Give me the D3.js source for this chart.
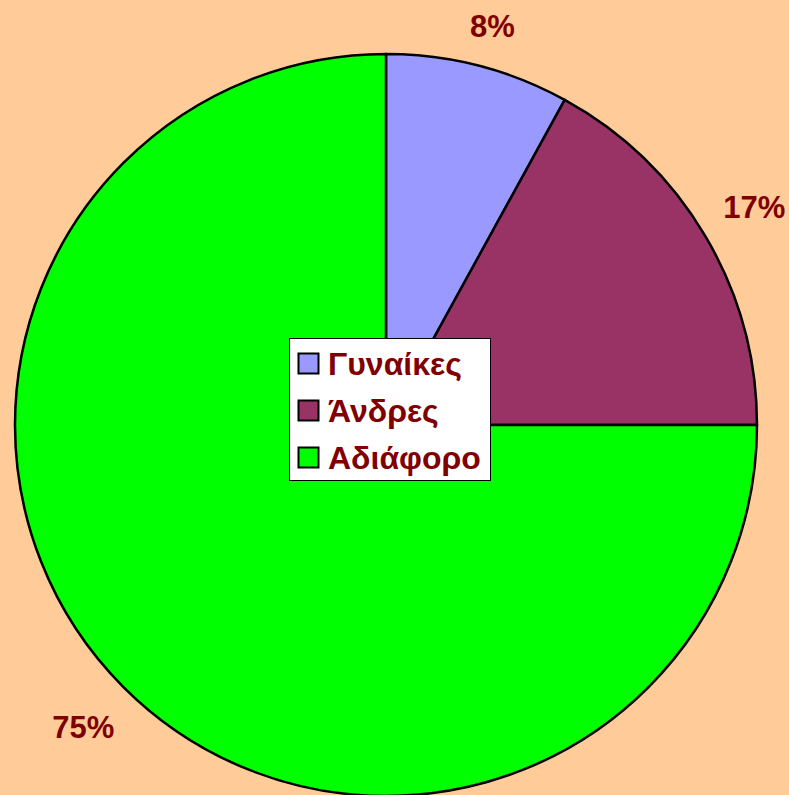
<!DOCTYPE html>
<html lang="el">
<head>
<meta charset="UTF-8">
<title>Pie</title>
<script src="https://d3js.org/d3.v7.min.js"></script>
<style>
  html, body { margin: 0; padding: 0; background: #FFCC99; overflow: hidden; }
  svg { display: block; }
  .lbl { font-family: "Liberation Sans", Arial, sans-serif; font-weight: bold; fill: #800000; }
</style>
</head>
<body>
<svg id="chart" width="789" height="795"></svg>
<script>
// data
const categories = ["Γυναίκες", "Άνδρες", "Αδιάφορο"];
const values = [8, 17, 75];
const colors = ["#9999FF", "#993366", "#00FF00"];

const W = 789, H = 795;
const cx = 386, cy = 425, r = 371, labelR = 428;

const svg = d3.select("#chart");
const color = d3.scaleOrdinal().domain(categories).range(colors);

const pie = d3.pie().sort(null).value(d => d.v);
const arcs = pie(categories.map((c, i) => ({ c, v: values[i] })));
const total = d3.sum(values);

const arc = d3.arc().innerRadius(0).outerRadius(r);
const labelArc = d3.arc().innerRadius(labelR).outerRadius(labelR);

const g = svg.append("g").attr("transform", `translate(${cx},${cy})`);

g.selectAll("path.slice")
  .data(arcs)
  .join("path")
  .attr("class", "slice")
  .attr("d", arc)
  .attr("fill", d => color(d.data.c))
  .attr("stroke", "#000")
  .attr("stroke-width", 2.5)
  .attr("stroke-linejoin", "round");

// percent labels, kept inside the top of the chart area
g.selectAll("text.pct")
  .data(arcs)
  .join("text")
  .attr("class", "lbl pct")
  .attr("font-size", 31)
  .attr("text-anchor", "middle")
  .attr("dominant-baseline", "central")
  .attr("x", d => labelArc.centroid(d)[0])
  .attr("y", d => Math.max(labelArc.centroid(d)[1], 26 - cy))
  .text(d => Math.round(d.data.v / total * 100) + "%");

// legend
const lx = 289, ly = 338, lw = 201, lh = 142, rowH = 47;
const legend = svg.append("g");
legend.append("rect")
  .attr("x", lx + 0.5).attr("y", ly + 0.5)
  .attr("width", lw).attr("height", lh)
  .attr("fill", "#fff").attr("stroke", "#000").attr("stroke-width", 1);

const rows = legend.selectAll("g.row")
  .data(categories)
  .join("g")
  .attr("class", "row")
  .attr("transform", (d, i) => `translate(${lx + 9},${ly + 15 + i * rowH})`);

rows.append("rect")
  .attr("x", 0.5).attr("y", 0.5)
  .attr("width", 20).attr("height", 20)
  .attr("fill", d => color(d))
  .attr("stroke", "#000").attr("stroke-width", 2);

rows.append("text")
  .attr("class", "lbl")
  .attr("font-size", 32)
  .attr("x", 30)
  .attr("y", 11)
  .attr("dominant-baseline", "central")
  .text(d => d);
</script>
</body>
</html>
